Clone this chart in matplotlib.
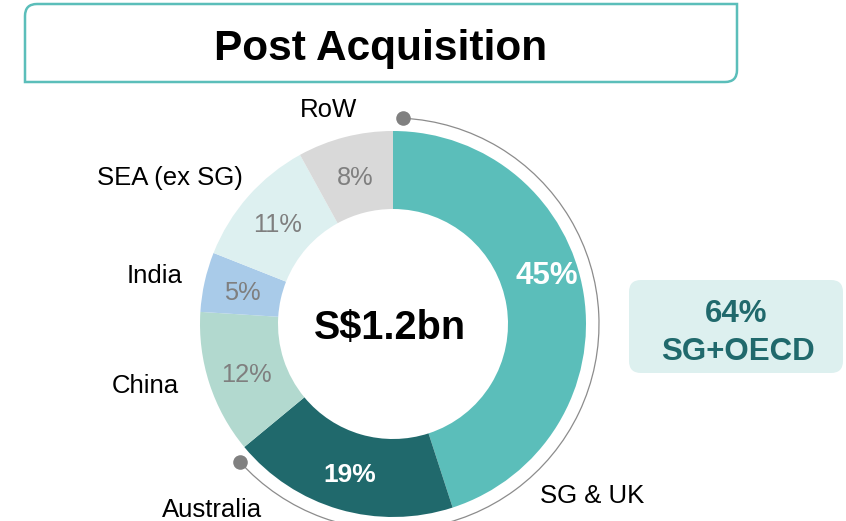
import matplotlib
matplotlib.use("Agg")
import matplotlib.pyplot as plt
from matplotlib.patches import Arc, FancyBboxPatch, PathPatch
from matplotlib.path import Path
import numpy as np

plt.rcParams['font.family'] = ['Liberation Sans', 'DejaVu Sans']

# ---- data ----
regions = ["SG & UK", "Australia", "China", "India", "SEA (ex SG)", "RoW"]
shares = [45, 19, 12, 5, 11, 8]
pct_labels = ["45%", "19%", "12%", "5%", "11%", "8%"]
title = "Post Acquisition"
center_text = "S$1.2bn"
highlight_value = "64%"
highlight_label = "SG+OECD"
highlight_regions = ["SG & UK", "Australia"]

# ---- style ----
colors = ["#5BBEBA", "#20696C", "#B2D9CF", "#A9CBE9", "#DDF0F0", "#D9D9D9"]
pct_colors = ["white", "white", "#7F7F7F", "#7F7F7F", "#7F7F7F", "#7F7F7F"]
pct_weights = ["bold", "bold", "normal", "normal", "normal", "normal"]
pct_sizes = [22.5, 19, 18.3, 18.3, 18.3, 18.3]
teal = "#5BBEBA"
dark = "#20696C"

W, H = 846, 521
fig = plt.figure(figsize=(W / 100, H / 100), dpi=100)
ax = fig.add_axes([0, 0, 1, 1])


def txt(x, y, s, size, **kw):
    # shift down slightly so glyphs are visually centred on (x, y)
    ax.text(x, y - 0.12 * size * 100 / 72, s, ha='center', va='center',
            fontsize=size, **kw)


cx, cy = 393, 197
R, ring = 193, 78

wedges, _ = ax.pie(shares, startangle=90, counterclock=False, radius=R,
                   center=(cx, cy), colors=colors,
                   wedgeprops=dict(width=ring, edgecolor='none', linewidth=0),
                   frame=True)

# percentage labels at the wedge mid-angles
cum = np.cumsum([0] + shares)
total = sum(shares)
rl = 154
for i, lab in enumerate(pct_labels):
    mid = 90 - 360 * (cum[i] + cum[i + 1]) / 2 / total
    if i == 0:
        mid += 9.6
        r = 162
    else:
        r = rl
    x = cx + r * np.cos(np.radians(mid))
    y = cy + r * np.sin(np.radians(mid))
    txt(x, y, lab, pct_sizes[i], color=pct_colors[i], fontweight=pct_weights[i])

# outer category labels
label_pos = [(592, 28), (212, 14), (145, 138), (155, 248), (170, 346), (328, 414)]
for lab, (x, y) in zip(regions, label_pos):
    txt(x, y, lab, 18.5, color='black')

# centre text
txt(cx - 3, cy + 1, center_text, 28.5, fontweight='bold', color='black')

# bracket arc over highlighted share
hl = sum(s for r_, s in zip(regions, shares) if r_ in highlight_regions)
a_start = 90 - 2.8
a_end = 90 - 360 * hl / total + 2.3
Ra = 206
ax.add_patch(Arc((cx, cy), 2 * Ra, 2 * Ra, theta1=a_end, theta2=a_start,
                 color="#8C8C8C", lw=0.9))
for a in (a_start, a_end):
    ax.plot(cx + Ra * np.cos(np.radians(a)), cy + Ra * np.sin(np.radians(a)),
            'o', color="#808080", ms=10.5, mec='none')

# highlight box
ax.add_patch(FancyBboxPatch((629 + 12, 148 + 12), 214 - 24, 93 - 24,
                            boxstyle="round,pad=12", fc="#DDF0EF", ec='none'))
txt(736, 211, highlight_value, 22.5, fontweight='bold', color=dark)
txt(738, 173, highlight_label, 22.5, fontweight='bold', color=dark)

# title box: rounded top-left and bottom-right corners
x0, x1, y0, y1, rc = 25, 737, H - 82, H - 4, 12
verts = [
    (x0, y0), (x1 - rc, y0), (x1, y0), (x1, y0 + rc),
    (x1, y1), (x0 + rc, y1), (x0, y1), (x0, y1 - rc), (x0, y0), (x0, y0)
]
codes = [Path.MOVETO, Path.LINETO, Path.CURVE3, Path.CURVE3,
         Path.LINETO, Path.LINETO, Path.CURVE3, Path.CURVE3, Path.LINETO,
         Path.CLOSEPOLY]
ax.add_patch(PathPatch(Path(verts, codes), fc='white', ec=teal, lw=1.8))
txt((x0 + x1) / 2, H - 44, title, 30.5, fontweight='bold', color='black')

ax.set_xlim(0, W)
ax.set_ylim(0, H)
ax.set_aspect('equal')
ax.axis('off')

fig.savefig("out.png", dpi=100)
